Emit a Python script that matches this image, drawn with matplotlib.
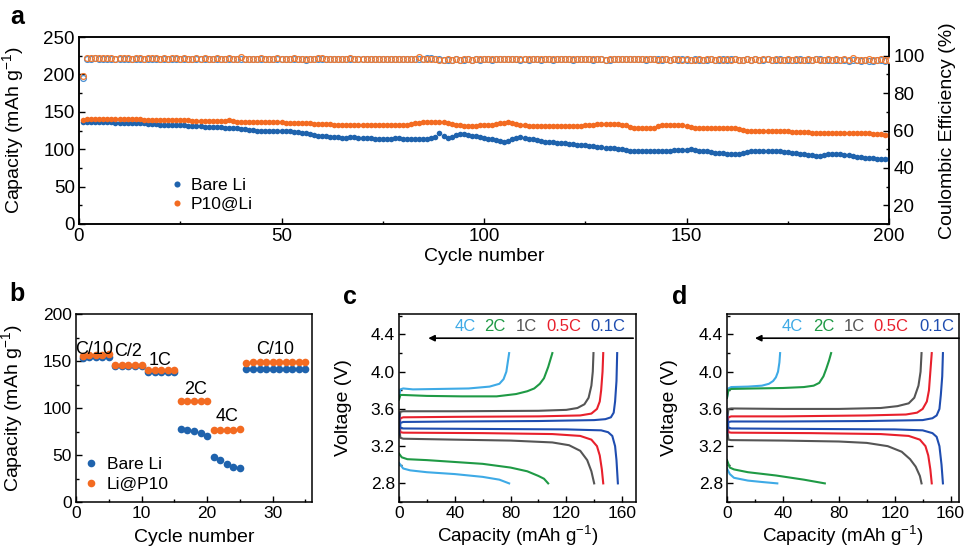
import numpy as np
import matplotlib
matplotlib.use("Agg")
import matplotlib.pyplot as plt
from matplotlib.ticker import MultipleLocator

plt.rcParams['font.family'] = ['Liberation Sans', 'DejaVu Sans']
plt.rcParams['mathtext.fontset'] = 'custom'
plt.rcParams['mathtext.rm'] = 'Liberation Sans'
plt.rcParams['mathtext.it'] = 'Liberation Sans:italic'
plt.rcParams['axes.linewidth'] = 1.1

# ---------------- panel a: long cycling ----------------
cycles_a = list(range(1, 201))

cap_bare = [
    136, 136, 136, 136, 136, 136, 136, 136, 135, 135, 135, 135, 135, 135, 135, 135, 134, 134, 134, 133,
    133, 133, 132, 132, 132, 132, 131, 131, 131, 131, 130, 130, 130, 130, 130, 129, 129, 128, 128, 127,
    127, 126, 126, 125, 125, 125, 124, 124, 124, 124, 124, 124, 123, 123, 122, 121, 120, 119, 118, 117,
    117, 116, 116, 116, 115, 115, 116, 116, 115, 115, 115, 115, 114, 113, 113, 113, 114, 115, 115, 114,
    114, 114, 114, 114, 114, 114, 115, 116, 121, 117, 115, 116, 119, 120, 120, 119, 118, 117, 116, 115,
    114, 113, 112, 111, 110, 111, 113, 115, 116, 115, 114, 113, 112, 111, 110, 109, 109, 108, 108, 108,
    107, 107, 106, 106, 105, 104, 104, 103, 103, 102, 101, 101, 100, 100, 99, 98, 98, 98, 97, 97,
    97, 97, 97, 98, 98, 98, 99, 99, 99, 99, 100, 99, 98, 97, 97, 96, 95, 95, 95, 94,
    94, 94, 94, 95, 96, 97, 97, 98, 98, 98, 98, 97, 97, 96, 96, 95, 95, 94, 93, 92,
    92, 91, 91, 92, 93, 93, 93, 93, 92, 92, 91, 90, 89, 88, 88, 88, 87, 87, 87, 87,
]

cap_p10 = [
    139, 140, 140, 140, 140, 140, 140, 140, 140, 140, 140, 140, 140, 140, 140, 139, 139, 139, 139, 139,
    139, 139, 139, 139, 139, 139, 139, 138, 138, 138, 138, 138, 138, 138, 138, 138, 139, 138, 137, 137,
    137, 137, 137, 136, 136, 136, 136, 136, 136, 136, 135, 135, 135, 135, 135, 135, 135, 134, 134, 134,
    134, 134, 133, 133, 133, 133, 133, 133, 133, 133, 133, 133, 133, 132, 132, 132, 132, 132, 132, 132,
    133, 134, 135, 135, 136, 136, 137, 137, 137, 136, 135, 134, 133, 132, 131, 131, 131, 131, 132, 132,
    132, 133, 134, 135, 135, 136, 135, 134, 133, 132, 131, 131, 131, 131, 131, 131, 131, 131, 131, 131,
    131, 131, 131, 131, 132, 132, 133, 134, 134, 134, 134, 134, 134, 133, 132, 130, 129, 128, 128, 128,
    128, 129, 131, 132, 133, 133, 133, 133, 132, 131, 130, 129, 129, 129, 129, 129, 129, 129, 129, 128,
    128, 128, 127, 126, 125, 124, 124, 124, 124, 124, 124, 124, 124, 124, 124, 123, 123, 123, 123, 123,
    122, 122, 122, 122, 122, 122, 122, 122, 122, 122, 122, 121, 121, 121, 121, 120, 120, 120, 119, 119,
]

ce_bare = [
    88.0, 98.3, 98.5, 98.6, 98.4, 98.5, 98.3, 98.4, 98.0, 98.2, 98.4, 98.3, 98.5, 98.2, 98.4, 98.3, 98.2, 98.4, 98.5, 98.3,
    98.2, 98.4, 98.1, 98.3, 98.2, 98.4, 98.3, 98.2, 98.3, 98.1, 98.4, 98.2, 98.3, 98.0, 98.2, 98.3, 98.1, 98.5, 98.2, 98.0,
    98.3, 98.2, 98.1, 98.3, 98.2, 98.4, 98.2, 98.1, 98.3, 98.0, 98.2, 98.3, 98.1, 98.2, 98.3, 97.9, 98.2, 98.3, 98.1, 98.2,
    98.0, 98.2, 98.3, 98.1, 98.2, 98.0, 98.2, 98.1, 98.3, 98.0, 98.2, 98.1, 98.3, 98.2, 98.0, 98.2, 98.1, 98.3, 98.2, 98.0,
    98.2, 98.4, 98.1, 98.3, 98.0, 98.6, 98.7, 98.5, 98.2, 97.6, 97.9, 97.7, 98.0, 97.5, 97.9, 98.1, 97.8, 98.0, 97.7, 98.1,
    98.2, 97.9, 98.3, 98.0, 98.2, 98.5, 98.1, 98.3, 97.9, 98.2, 97.8, 98.1, 98.0, 97.9, 98.2, 98.1, 97.9, 98.2, 98.0, 98.1,
    98.1, 97.8, 98.2, 98.0, 98.1, 98.2, 97.9, 98.1, 98.3, 97.8, 97.7, 98.0, 98.2, 98.3, 98.1, 98.4, 98.2, 98.0, 98.2, 97.9,
    98.1, 98.3, 98.0, 97.8, 98.1, 97.9, 98.2, 97.6, 98.0, 97.9, 97.7, 98.0, 97.8, 97.9, 97.7, 98.0, 97.8, 97.9, 98.1, 97.8,
    98.3, 98.1, 97.9, 97.8, 98.0, 97.9, 98.1, 97.8, 97.7, 98.0, 97.6, 97.9, 98.0, 97.7, 97.9, 97.8, 97.6, 98.0, 97.8, 97.9,
    97.7, 98.0, 98.2, 97.8, 97.9, 97.6, 97.9, 97.7, 97.5, 97.2, 97.6, 97.8, 97.4, 97.6, 97.2, 97.0, 97.5, 97.6, 97.4, 97.5,
]

ce_p10 = [
    89.0, 98.6, 98.7, 98.8, 98.8, 98.7, 98.6, 98.7, 98.5, 98.6, 98.7, 98.6, 98.5, 98.7, 98.6, 98.5, 98.6, 98.7, 98.6, 98.5,
    98.6, 98.5, 98.6, 98.7, 98.5, 98.6, 98.5, 98.4, 98.6, 98.5, 98.6, 98.5, 98.4, 98.6, 98.5, 98.5, 98.6, 98.4, 98.5, 99.2,
    98.5, 98.3, 98.5, 98.4, 98.6, 98.5, 98.4, 98.5, 98.6, 98.4, 98.5, 98.4, 98.6, 98.5, 98.3, 98.5, 98.4, 98.5, 98.6, 98.7,
    98.4, 98.5, 98.3, 98.5, 98.4, 98.5, 98.6, 98.4, 98.5, 98.3, 98.5, 98.4, 98.5, 98.3, 98.4, 98.5, 98.4, 98.3, 98.5, 98.4,
    98.3, 98.5, 98.4, 99.3, 98.5, 98.2, 98.1, 98.3, 97.6, 97.9, 98.0, 97.8, 98.1, 97.9, 98.0, 98.2, 97.9, 98.1, 98.0, 98.2,
    98.1, 98.3, 98.2, 98.3, 98.1, 98.4, 98.2, 98.3, 98.1, 98.2, 98.0, 98.2, 98.1, 98.3, 98.2, 98.1, 98.2, 98.3, 98.2, 98.1,
    98.2, 98.0, 98.3, 98.1, 98.2, 98.1, 98.3, 98.2, 98.0, 97.9, 98.1, 98.0, 98.2, 98.1, 98.3, 98.2, 98.0, 98.1, 98.2, 98.0,
    98.1, 98.0, 97.9, 98.1, 98.0, 97.8, 98.0, 98.1, 97.9, 98.0, 97.8, 97.9, 98.0, 97.9, 98.0, 98.1, 97.9, 98.0, 97.9, 98.0,
    97.8, 98.0, 97.9, 97.7, 98.0, 97.9, 98.0, 97.9, 98.1, 98.0, 97.9, 98.0, 97.8, 97.9, 98.0, 97.9, 98.0, 97.8, 97.9, 98.0,
    97.9, 98.0, 97.8, 97.9, 98.0, 97.9, 98.1, 97.9, 98.0, 97.8, 98.6, 97.9, 97.8, 97.9, 98.0, 97.8, 97.9, 98.0, 97.9, 97.9,
]

# ---------------- panel b: rate capability ----------------
cycles_b = list(range(1, 36))
rate_bare = [153, 154, 154, 154, 154, 145, 145, 145, 145, 145,
             138, 138, 138, 138, 138, 78, 77, 76, 73, 70,
             48, 45, 40, 37, 36, 141, 141, 141, 141, 142,
             142, 141, 141, 141, 141]
rate_p10 = [155, 156, 156, 156, 157, 146, 146, 146, 146, 146,
            140, 140, 140, 140, 140, 107, 107, 107, 107, 107,
            77, 77, 77, 77, 78, 148, 149, 149, 149, 149,
            149, 149, 149, 149, 149]
rate_labels = ['C/10', 'C/2', '1C', '2C', '4C', 'C/10']
rate_label_x = [2.8, 8.0, 12.8, 18.3, 23.1, 30.3]
rate_label_y = [162, 160, 151, 120, 91, 162]

# ---------------- panels c, d: voltage profiles ----------------
c_rates = ['4C', '2C', '1C', '0.5C', '0.1C']
c_colors = ['#3eaae6', '#1f9a45', '#555555', '#e8202c', '#1f4db0']
c_label_x = [40, 61, 84, 105.5, 137.6]
d_label_x = [39.4, 61.6, 83.5, 105, 138]

c_charge = {
    '4C': ([0, 1, 3, 10, 30, 50, 65, 72, 75, 77, 78, 79],
           [3.72, 3.81, 3.82, 3.81, 3.815, 3.82, 3.84, 3.87, 3.92, 4.0, 4.1, 4.2]),
    '2C': ([0, 1, 3, 20, 45, 70, 84, 92, 97, 101, 104, 107, 109, 110],
           [3.70, 3.75, 3.75, 3.74, 3.735, 3.735, 3.76, 3.79, 3.82, 3.87, 3.93, 4.05, 4.15, 4.2]),
    '1C': ([0, 1, 3, 40, 100, 120, 128, 133, 136, 138, 139, 139.5],
           [3.45, 3.57, 3.575, 3.575, 3.58, 3.59, 3.61, 3.65, 3.72, 3.85, 4.0, 4.2]),
    '0.5C': ([0, 1, 3, 40, 100, 130, 138, 142, 144, 145, 146, 146.5],
             [3.38, 3.50, 3.51, 3.515, 3.52, 3.53, 3.55, 3.6, 3.68, 3.8, 4.0, 4.2]),
    '0.1C': ([0, 1, 3, 40, 100, 140, 148, 152, 154, 155, 156, 156.5],
             [3.33, 3.45, 3.46, 3.465, 3.47, 3.48, 3.49, 3.51, 3.56, 3.68, 3.9, 4.2]),
}
c_discharge = {
    '4C': ([0, 3, 8, 20, 40, 60, 72, 79],
           [3.02, 2.96, 2.94, 2.92, 2.9, 2.87, 2.84, 2.8]),
    '2C': ([0, 2, 6, 20, 40, 60, 80, 92, 100, 104, 107],
           [3.12, 3.08, 3.06, 3.05, 3.03, 3.01, 2.97, 2.93, 2.88, 2.85, 2.8]),
    '1C': ([0, 1, 3, 40, 80, 110, 122, 130, 135, 138, 140],
           [3.42, 3.29, 3.28, 3.27, 3.26, 3.24, 3.21, 3.15, 3.05, 2.93, 2.8]),
    '0.5C': ([0, 1, 3, 60, 110, 130, 138, 142, 144, 145.5, 146.5],
             [3.50, 3.35, 3.345, 3.34, 3.33, 3.31, 3.27, 3.2, 3.1, 2.95, 2.8]),
    '0.1C': ([0, 1, 3, 60, 120, 145, 150, 153, 155, 156, 157],
             [3.55, 3.40, 3.39, 3.385, 3.38, 3.37, 3.35, 3.31, 3.2, 3.05, 2.8]),
}
d_charge = {
    '4C': ([0, 1, 3, 15, 25, 30, 33, 35, 36.5, 37.5, 38],
           [3.72, 3.82, 3.835, 3.84, 3.85, 3.87, 3.9, 3.94, 4.0, 4.1, 4.2]),
    '2C': ([0, 1, 3, 20, 40, 55, 62, 66, 69, 71, 73, 74.5],
           [3.72, 3.80, 3.815, 3.82, 3.825, 3.835, 3.85, 3.88, 3.95, 4.03, 4.12, 4.2]),
    '1C': ([0, 1, 3, 40, 80, 110, 122, 130, 134, 137, 138.5, 139.2],
           [3.45, 3.6, 3.605, 3.6, 3.6, 3.61, 3.63, 3.66, 3.72, 3.85, 4.0, 4.2]),
    '0.5C': ([0, 1, 3, 40, 100, 128, 136, 140, 143, 144.5, 145.5, 146.5],
             [3.38, 3.51, 3.52, 3.52, 3.53, 3.54, 3.56, 3.6, 3.68, 3.8, 4.0, 4.2]),
    '0.1C': ([0, 1, 3, 40, 100, 140, 147, 150, 152, 153, 154, 154.5],
             [3.33, 3.46, 3.465, 3.465, 3.47, 3.48, 3.5, 3.53, 3.6, 3.75, 3.95, 4.2]),
}
d_discharge = {
    '4C': ([0, 2, 5, 15, 25, 36],
           [2.96, 2.9, 2.86, 2.83, 2.815, 2.8]),
    '2C': ([0, 2, 5, 15, 35, 55, 70],
           [3.05, 2.97, 2.95, 2.92, 2.885, 2.84, 2.8]),
    '1C': ([0, 1, 3, 40, 80, 100, 115, 125, 131, 135, 138, 139.2],
           [3.42, 3.27, 3.265, 3.26, 3.25, 3.235, 3.2, 3.14, 3.06, 2.98, 2.88, 2.8]),
    '0.5C': ([0, 1, 3, 60, 110, 130, 138, 142, 144, 145.5, 146.5],
             [3.50, 3.35, 3.345, 3.34, 3.33, 3.31, 3.27, 3.2, 3.1, 2.95, 2.8]),
    '0.1C': ([0, 1, 3, 60, 120, 140, 147, 150, 152, 153.5, 154.5],
             [3.55, 3.40, 3.39, 3.385, 3.38, 3.37, 3.34, 3.3, 3.2, 3.0, 2.8]),
}

BLUE = '#1f63ad'
ORANGE = '#f36b21'
BLUE_CE = '#4a8fd2'
ORANGE_CE = '#f07a32'
TICK_FS = 12.5
LABEL_FS = 14


def style_ticks(ax, size=TICK_FS):
    ax.tick_params(which='both', direction='in', labelsize=size, width=1.0, pad=3)
    ax.tick_params(which='major', length=4)
    ax.tick_params(which='minor', length=2.5)


fig = plt.figure(figsize=(9.64, 5.46), dpi=100)

# ---- a ----
axa = fig.add_axes([79 / 964, 1 - 224 / 546, 810 / 964, 187 / 546])
axa.plot(cycles_a, cap_bare, 'o', color=BLUE, ms=4.0, mew=0, label='Bare Li', zorder=3)
axa.plot(cycles_a, cap_p10, 'o', color=ORANGE, ms=4.0, mew=0, label='P10@Li', zorder=4)
axa.set_xlim(0, 200)
axa.set_ylim(0, 250)
axa.xaxis.set_major_locator(MultipleLocator(50))
axa.xaxis.set_minor_locator(MultipleLocator(25))
axa.yaxis.set_major_locator(MultipleLocator(50))
axa.yaxis.set_minor_locator(MultipleLocator(25))
style_ticks(axa, 13.5)
axa.set_xlabel('Cycle number', fontsize=LABEL_FS)
axa.set_ylabel('Capacity (mAh g$^{-1}$)', fontsize=LABEL_FS)
axa.xaxis.set_label_coords(0.5, -0.13)
axa.yaxis.set_label_coords(-0.066, 0.5)
axa.legend(loc='lower left', bbox_to_anchor=(0.095, -0.02), frameon=False, fontsize=12.5,
           handlelength=0.6, handletextpad=0.5, labelspacing=0.25, markerscale=1.1)

axa2 = axa.twinx()
axa2.plot(cycles_a, ce_bare, 'o', mfc='white', mec=BLUE_CE, ms=4.2, mew=0.9, zorder=3)
axa2.plot(cycles_a, ce_p10, 'o', mfc='none', mec=ORANGE_CE, ms=4.2, mew=0.9, zorder=4)
axa2.set_ylim(10, 110)
axa2.yaxis.set_major_locator(MultipleLocator(20))
axa2.yaxis.set_minor_locator(MultipleLocator(10))
style_ticks(axa2, 13.5)
axa2.set_ylabel('Coulombic Efficiency (%)', fontsize=LABEL_FS)
axa2.yaxis.set_label_coords(1.062, 0.5)

# ---- b ----
axb = fig.add_axes([76 / 964, 1 - 502 / 546, 236 / 964, 188 / 546])
axb.plot(cycles_b, rate_bare, 'o', color=BLUE, ms=5.5, mew=0, label='Bare Li', zorder=3)
axb.plot(cycles_b, rate_p10, 'o', color=ORANGE, ms=5.5, mew=0, label='Li@P10', zorder=4)
for lab, lx, ly in zip(rate_labels, rate_label_x, rate_label_y):
    axb.text(lx, ly, lab, fontsize=13, ha='center', va='center', zorder=5)
axb.set_xlim(0, 36)
axb.set_ylim(0, 200)
axb.xaxis.set_major_locator(MultipleLocator(10))
axb.xaxis.set_minor_locator(MultipleLocator(5))
axb.yaxis.set_major_locator(MultipleLocator(50))
axb.yaxis.set_minor_locator(MultipleLocator(25))
style_ticks(axb)
axb.set_xlabel('Cycle number', fontsize=LABEL_FS)
axb.set_ylabel('Capacity (mAh g$^{-1}$)', fontsize=LABEL_FS)
axb.xaxis.set_label_coords(0.5, -0.145)
axb.yaxis.set_label_coords(-0.215, 0.5)
axb.legend(loc='lower left', bbox_to_anchor=(-0.025, -0.03), frameon=False, fontsize=12.5,
           handlelength=0.6, handletextpad=0.6, labelspacing=0.3, markerscale=1.0)


# ---- c, d ----
def profile_panel(rect, charge, discharge, label_x, xmax, arrow_x0, arrow_x1):
    ax = fig.add_axes(rect)
    for rate, col in zip(c_rates, c_colors):
        ax.plot(charge[rate][0], charge[rate][1], color=col, lw=1.5)
        ax.plot(discharge[rate][0], discharge[rate][1], color=col, lw=1.5)
    for rate, col, lx in zip(c_rates, c_colors, label_x):
        ax.text(lx, 4.49, rate, color=col, fontsize=12, ha='left', va='center')
    ax.annotate('', xy=(arrow_x1, 4.36), xytext=(arrow_x0, 4.36),
                arrowprops=dict(arrowstyle='-|>', color='black', lw=1.2,
                                mutation_scale=9, shrinkA=0, shrinkB=0))
    ax.set_xlim(0, xmax)
    ax.set_ylim(2.6, 4.62)
    ax.xaxis.set_major_locator(MultipleLocator(40))
    ax.xaxis.set_minor_locator(MultipleLocator(20))
    ax.set_yticks([2.8, 3.2, 3.6, 4.0, 4.4])
    ax.yaxis.set_minor_locator(MultipleLocator(0.2))
    style_ticks(ax)
    ax.set_xlabel('Capacity (mAh g$^{-1}$)', fontsize=13.5)
    ax.set_ylabel('Voltage (V)', fontsize=LABEL_FS)
    return ax


axc = profile_panel([399 / 964, 1 - 502 / 546, 237 / 964, 188 / 546],
                    c_charge, c_discharge, c_label_x, 170, 168, 21)
axc.xaxis.set_label_coords(0.5, -0.115)
axc.yaxis.set_label_coords(-0.2, 0.5)

axd = profile_panel([727 / 964, 1 - 502 / 546, 232 / 964, 188 / 546],
                    d_charge, d_discharge, d_label_x, 166, 166, 20)
axd.xaxis.set_label_coords(0.5, -0.115)
axd.yaxis.set_label_coords(-0.21, 0.5)

# panel letters
for letter, px, py in [('a', 17, 17), ('b', 17, 294), ('c', 350, 297), ('d', 680, 297)]:
    fig.text(px / 964, 1 - py / 546, letter, fontsize=18, fontweight='bold',
             ha='center', va='center')

fig.savefig('out.png', dpi=100)
